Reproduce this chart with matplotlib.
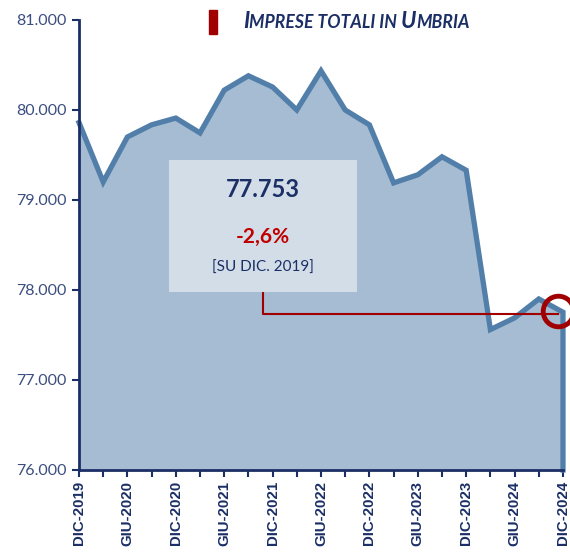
import matplotlib.pyplot as plt
from matplotlib.offsetbox import TextArea, HPacker, AnchoredOffsetbox
from matplotlib.patches import Rectangle
from matplotlib.ticker import FuncFormatter

labels = ['DIC-2019', 'GIU-2020', 'DIC-2020', 'GIU-2021', 'DIC-2021', 'GIU-2022',
          'DIC-2022', 'GIU-2023', 'DIC-2023', 'GIU-2024', 'DIC-2024']
values = [79860, 79200, 79700, 79835, 79910, 79745, 80220, 80380, 80255, 80000,
          80435, 80000, 79835, 79190, 79280, 79480, 79330, 77560, 77690, 77900, 77753]
last_value = '77.753'
change = '-2,6%'
base_note = '[SU DIC. 2019]'

navy = '#1B2F66'
line_col = '#527FAA'
fill_col = '#A6BCD2'
red = '#A00000'

plt.rcParams['font.family'] = ['Lato', 'DejaVu Sans']

fig = plt.figure(figsize=(5.7, 5.52), dpi=100)
ax = fig.add_axes([0.1386, 0.1486, 0.8491, 0.8152])

ymin, ymax = 76000, 81000
x = list(range(len(values)))
ax.fill_between(x, values, ymin, color=fill_col, lw=0)
ax.plot(x + [x[-1]], values + [ymin], color=line_col, lw=3.8,
        solid_joinstyle='miter', clip_on=False, zorder=3)

ax.set_xlim(0, len(values) - 1)
ax.set_ylim(ymin, ymax)
ax.set_yticks(range(ymin, ymax + 1, 1000))
ax.yaxis.set_major_formatter(FuncFormatter(lambda v, p: f'{int(v):,}'.replace(',', '.')))
ax.set_xticks(x)
ax.set_xticklabels([labels[i // 2] if i % 2 == 0 else '' for i in x],
                   rotation=90, fontweight='bold', fontsize=10.8, color=navy,
                   family=['Liberation Sans'])
ax.tick_params(axis='y', colors=navy, labelsize=11.5, length=5, width=1.5,
               labelcolor='#3B4E80', pad=4)
ax.tick_params(axis='x', colors=navy, length=5, width=1.5, pad=3)
for s in ['top', 'right']:
    ax.spines[s].set_visible(False)
for s in ['left', 'bottom']:
    ax.spines[s].set_color(navy)
    ax.spines[s].set_linewidth(2)
    ax.spines[s].set_zorder(4)

# annotation box
box_x0, box_x1 = 3.7, 11.5
ax.add_patch(Rectangle((box_x0, 77980), box_x1 - box_x0, 79440 - 77980,
                       facecolor='#D3DDE8', edgecolor='none', zorder=5))
cx = (box_x0 + box_x1) / 2
ax.text(cx, 79120, last_value, ha='center', va='center', fontsize=17,
        fontweight='bold', color=navy, zorder=6)
ax.text(cx, 78590, change, ha='center', va='center', fontsize=15,
        fontweight='bold', color='#C00000', zorder=6)
ax.text(cx, 78250, base_note, ha='center', va='center', fontsize=11,
        color=navy, zorder=6)

# connector to last point
lx = 7.6
ax.plot([lx, lx, x[-1] - 0.2], [77980, values[-1] - 20, values[-1] - 20],
        color=red, lw=1.5, zorder=4)
ax.plot([x[-1] - 0.2], [values[-1] + 10], marker='o', ms=22, mfc='none',
        mec=red, mew=3.5, zorder=6, clip_on=False)

# title with small caps
def sc(txt, big):
    return TextArea(txt, textprops=dict(color=navy, fontweight='bold', style='italic',
                                        fontsize=16 if big else 12.7))
parts = [sc('I', True), sc('MPRESE TOTALI IN ', False), sc('U', True), sc('MBRIA', False)]
title = HPacker(children=parts, align='baseline', pad=0, sep=0)
fig.add_artist(AnchoredOffsetbox(loc='center left', child=title, frameon=False,
                                 bbox_to_anchor=(243 / 570, 1 - 21 / 552),
                                 bbox_transform=fig.transFigure, borderpad=0, pad=0))
fig.add_artist(Rectangle((209 / 570, 1 - 34 / 552), 8 / 570, 24 / 552,
                         transform=fig.transFigure, color=red))

fig.savefig('out.png', dpi=100)
